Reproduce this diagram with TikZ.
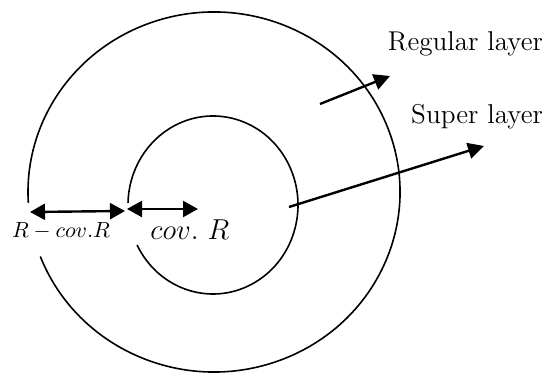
\documentclass[tikz,border=0pt]{standalone}
\usepackage{amsmath}
\usepackage{tikz}
\usetikzlibrary{arrows.meta}

\begin{document}
\begin{tikzpicture}[x=0.5pt, y=0.5pt,
  ring/.style={line width=0.8pt},
  pointer/.style={line width=1.2pt, -{Triangle[length=8pt,width=8pt]}},
  span/.style={line width=1.2pt, {Triangle[length=7.5pt,width=8pt]}-{Triangle[length=7.5pt,width=8pt]}}]

\useasboundingbox (0,0) rectangle (553,374);

% Outer ring (regular layer)
\draw[ring] (214,182) ++(201:186 and 180)
  arc[start angle=201, end angle=543.5, x radius=186, y radius=180];

% Inner ring (super layer)
\draw[ring] (213,169) ++(206.7:85 and 89)
  arc[start angle=206.7, end angle=538.7, x radius=85, y radius=89];

% Radii
\coordinate (edgeL) at (30,162);
\coordinate (edgeM) at (125,163);
\coordinate (superL) at (127,165);
\coordinate (mid) at (198,165);
\draw[span] (edgeL) -- (edgeM);
\draw[span] (superL) -- (mid);

\node (diff) at (61,143) {\fontsize{11}{13}\selectfont $R - cov.R$};
\node (cov) at (190,144) {\fontsize{14}{16}\selectfont $cov.\ R$};

% Layer labels
\node[anchor=east] (regular) at (550,330) {\fontsize{13.6}{16}\selectfont Regular layer};
\node[anchor=east] (super) at (550,257) {\fontsize{13.6}{16}\selectfont Super layer};

\coordinate (regA) at (320,270);
\coordinate (regB) at (390,298);
\coordinate (supA) at (289,167);
\coordinate (supB) at (484,228);
\draw[pointer] (regA) -- (regB);
\draw[pointer] (supA) -- (supB);

\end{tikzpicture}
\end{document}
